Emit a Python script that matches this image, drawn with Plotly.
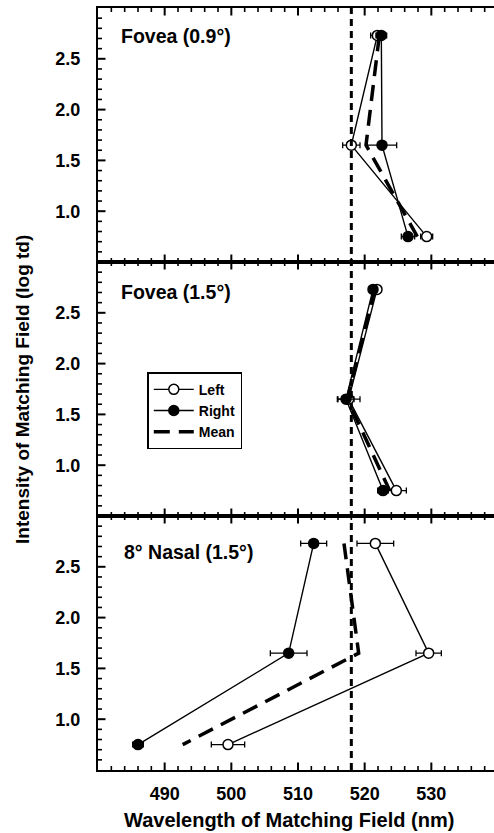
import plotly.graph_objects as go

# ---------------- data ----------------
intensity = [2.73, 1.65, 0.75]  # log td

# Panel 1: Fovea (0.9°)
fov09_left = [521.9, 518.0, 529.3]
fov09_left_err = [1.0, 1.3, 0.9]
fov09_right = [522.5, 522.6, 526.5]
fov09_right_err = [0.8, 2.2, 1.0]
fov09_mean = [522.2, 520.2, 527.9]

# Panel 2: Fovea (1.5°)
fov15_left = [521.85, 517.6, 524.75]
fov15_left_err = [0.5, 1.7, 1.5]
fov15_right = [521.25, 517.2, 522.75]
fov15_right_err = [0.5, 1.2, 0.8]
fov15_mean = [521.55, 517.4, 523.75]

# Panel 3: 8° Nasal (1.5°)
nas_left = [521.6, 529.6, 499.5]
nas_left_err = [2.75, 1.9, 2.5]
nas_right = [512.35, 508.6, 486.0]
nas_right_err = [1.95, 2.75, 0.8]
nas_mean = [516.9, 519.1, 492.7]

panel_labels = ["Fovea (0.9°)", "Fovea (1.5°)", "8° Nasal (1.5°)"]
reference_wavelength = 518.0

x_range = [480.0, 539.4]
y_range = [0.5, 3.0]
x_major = [490, 500, 510, 520, 530]
y_major = [1.0, 1.5, 2.0, 2.5]
x_minor_step = 2
y_minor_step = 0.1

FONT = "Liberation Sans, Arial, Helvetica, sans-serif"

W, H = 494, 833
M_L, M_R, M_T, M_B = 98, 0, 8, 63
PLOT_W = W - M_L - M_R
PANEL_H = (H - M_T - M_B) / 3

panels = [
    (fov09_left, fov09_left_err, fov09_right, fov09_right_err, fov09_mean),
    (fov15_left, fov15_left_err, fov15_right, fov15_right_err, fov15_mean),
    (nas_left, nas_left_err, nas_right, nas_right_err, nas_mean),
]

fig = go.Figure()

# ---- inside tick marks (axis decoration) drawn as thin line traces ----
x_per_px = (x_range[1] - x_range[0]) / PLOT_W
y_per_px = (y_range[1] - y_range[0]) / PANEL_H
TICK_MAJ, TICK_MIN = 7.5, 4
x_all = [round(x_range[0] + k * x_minor_step, 3)
         for k in range(int((x_range[1] - x_range[0]) / x_minor_step) + 1)]
y_all = [round(y_range[0] + k * y_minor_step, 3)
         for k in range(int(round((y_range[1] - y_range[0]) / y_minor_step)) + 1)]

for i in range(3):
    xa = "x" if i == 0 else f"x{i+1}"
    ya = "y" if i == 0 else f"y{i+1}"
    for is_major, width in ((False, 1.6), (True, 2.0)):
        tx, ty = [], []
        for xv in x_all:
            if xv <= x_range[0] or xv >= x_range[1]:
                continue
            maj = any(abs(xv - m) < 1e-6 for m in x_major)
            if maj != is_major:
                continue
            d = (TICK_MAJ if maj else TICK_MIN) * y_per_px
            tx += [xv, xv, None, xv, xv, None]
            ty += [y_range[0], y_range[0] + d, None, y_range[1], y_range[1] - d, None]
        for yv in y_all:
            if yv <= y_range[0] + 1e-6 or yv >= y_range[1] - 1e-6:
                continue
            maj = any(abs(yv - m) < 1e-6 for m in y_major)
            if maj != is_major:
                continue
            d = (TICK_MAJ if maj else TICK_MIN) * x_per_px
            tx += [x_range[0], x_range[0] + d, None]
            ty += [yv, yv, None]
        fig.add_trace(go.Scatter(x=tx, y=ty, xaxis=xa, yaxis=ya, mode="lines",
                                 line=dict(color="black", width=width),
                                 showlegend=False, hoverinfo="skip"))

for i, (lx, le, rx, re, mx) in enumerate(panels):
    xa = "x" if i == 0 else f"x{i+1}"
    ya = "y" if i == 0 else f"y{i+1}"
    show = (i == 0)
    fig.add_trace(go.Scatter(
        x=lx, y=intensity, xaxis=xa, yaxis=ya, name="Left", legendgroup="L",
        showlegend=show, mode="lines+markers",
        line=dict(color="black", width=1.4),
        marker=dict(symbol="circle", size=10, color="white",
                    line=dict(color="black", width=1.5)),
        error_x=dict(type="data", array=le, color="black", thickness=1.3, width=3),
    ))
    fig.add_trace(go.Scatter(
        x=rx, y=intensity, xaxis=xa, yaxis=ya, name="Right", legendgroup="R",
        showlegend=show, mode="lines+markers",
        line=dict(color="black", width=1.4),
        marker=dict(symbol="circle", size=10, color="black",
                    line=dict(color="black", width=1.5)),
        error_x=dict(type="data", array=re, color="black", thickness=1.3, width=3),
    ))
    fig.add_trace(go.Scatter(
        x=mx, y=intensity, xaxis=xa, yaxis=ya, name="Mean", legendgroup="M",
        showlegend=show, mode="lines",
        line=dict(color="black", width=3.5, dash="16px,9px"),
    ))

domains = [[2/3, 1.0], [1/3, 2/3], [0.0, 1/3]]
label_pos = [(0.053, 0.89), (0.053, 0.88), (0.061, 0.86)]

layout_axes = {}
for i in range(3):
    xk = "xaxis" if i == 0 else f"xaxis{i+1}"
    yk = "yaxis" if i == 0 else f"yaxis{i+1}"
    ya = "y" if i == 0 else f"y{i+1}"
    xa = "x" if i == 0 else f"x{i+1}"
    layout_axes[xk] = dict(
        range=x_range, tickmode="array", tickvals=x_major,
        ticktext=[str(v) for v in x_major], ticks="",
        showline=True, linewidth=2, linecolor="black", mirror=True,
        showgrid=False, zeroline=False, ticklabelstandoff=6,
        tickfont=dict(family=FONT, size=18, color="black", weight="bold"),
        domain=[0, 1], anchor=ya, showticklabels=(i == 2),
    )
    layout_axes[yk] = dict(
        range=y_range, tickmode="array", tickvals=y_major,
        ticktext=[f"{v:.1f}" for v in y_major], ticks="",
        showline=True, linewidth=2, linecolor="black", mirror=False,
        showgrid=False, zeroline=False, ticklabelstandoff=12,
        tickfont=dict(family=FONT, size=18, color="black", weight="bold"),
        domain=domains[i], anchor=xa,
    )

fig.update_layout(**layout_axes)

annotations = []
for i, txt in enumerate(panel_labels):
    sfx = "" if i == 0 else str(i + 1)
    annotations.append(dict(
        text=f"<b>{txt}</b>", xref=f"x{sfx} domain", yref=f"y{sfx} domain",
        x=label_pos[i][0], y=label_pos[i][1], xanchor="left", yanchor="middle",
        showarrow=False, font=dict(family=FONT, size=19.5, color="black"),
    ))
annotations.append(dict(
    text="<b>Wavelength of Matching Field (nm)</b>", xref="paper", yref="paper",
    x=0.482, y=-0.066, xanchor="center", yanchor="middle", showarrow=False,
    font=dict(family=FONT, size=20, color="black"),
))
annotations.append(dict(
    text="<b>Intensity of Matching Field (log td)</b>", xref="paper", yref="paper",
    x=-0.192, y=0.5, xanchor="center", yanchor="middle", textangle=-90,
    showarrow=False, font=dict(family=FONT, size=19, color="black"),
))

fig.update_layout(
    width=W, height=H,
    margin=dict(l=M_L, r=M_R, t=M_T, b=M_B),
    paper_bgcolor="white", plot_bgcolor="white",
    font=dict(family=FONT, color="black"),
    annotations=annotations,
    shapes=[dict(type="line", xref="x", yref="paper",
                 x0=reference_wavelength, x1=reference_wavelength, y0=0, y1=1,
                 line=dict(color="black", width=3, dash="7px,5px"), layer="above")],
    legend=dict(x=0.1245, y=0.522, xanchor="left", yanchor="top",
                bgcolor="white", bordercolor="black", borderwidth=1.5,
                font=dict(family=FONT, size=14, color="black", weight="bold"),
                tracegroupgap=0, itemwidth=40),
    showlegend=True,
)

fig.write_html("out.html")
